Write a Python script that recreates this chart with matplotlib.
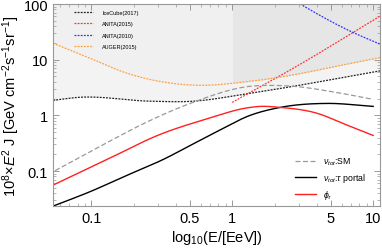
import numpy as np
import matplotlib
matplotlib.use('Agg')
import matplotlib.pyplot as plt
from matplotlib.ticker import FixedLocator, LogLocator, NullFormatter

plt.rcParams['font.family'] = ['Liberation Sans', 'DejaVu Sans']
plt.rcParams['mathtext.fontset'] = 'custom'
plt.rcParams['mathtext.rm'] = 'Liberation Sans'
plt.rcParams['mathtext.it'] = 'Liberation Sans:italic'

# Limits observats
E_ice = [0.0537, 0.08, 0.26, 0.5, 1.34, 11.2]
F_ice = [1.86, 2.1, 1.8, 1.78, 2.49, 6.3]

E_aug = [0.0537, 0.0984, 0.18, 0.565, 1.34, 11.2]
F_aug = [19.8, 10.6, 5.7, 3.47, 4.1, 10.9]

E_an15 = [1.0, 3.04, 11.2]
F_an15 = [1.71, 8.3, 60.8]

E_an10 = [2.5, 3.04, 6.87, 11.2]
F_an10 = [135.0, 100.0, 32.6, 19.0]

# Fluxos del model
E_sm = [0.0556, 0.126, 0.262, 0.504, 1.34, 2.0, 2.71, 5.4, 10.0]
F_sm = [0.102, 0.313, 0.81, 1.64, 3.33, 3.45, 3.33, 2.6, 1.94]

E_tau = [0.0537, 0.0984, 0.174, 0.335, 0.504, 0.783, 1.34, 2.19, 4.72, 10.0]
F_tau = [0.0235, 0.0427, 0.081, 0.168, 0.288, 0.515, 1.0, 1.39, 1.64, 1.45]

E_phi = [0.0537, 0.13, 0.308, 0.644, 1.34, 1.58, 2.19, 4.01, 6.33, 10.0]
F_phi = [0.056, 0.162, 0.455, 0.847, 1.39, 1.45, 1.39, 1.09, 0.69, 0.436]

fig = plt.figure(figsize=(3.82, 2.51), dpi=100)
ax = fig.add_axes([0.139, 0.175, 0.856, 0.805])
ax.set_xscale('log')
ax.set_yscale('log')
ax.set_xlim(0.0537, 11.2)
ax.set_ylim(0.0235, 100)


def suau(E, F, n=300):
    # Hermite cubic en escala log-log
    x = np.log10(E)
    y = np.log10(F)
    m = np.gradient(y, x)
    xs = np.linspace(x[0], x[-1], n)
    i = np.clip(np.searchsorted(x, xs) - 1, 0, len(x) - 2)
    h = x[i + 1] - x[i]
    t = (xs - x[i]) / h
    ys = ((2*t**3 - 3*t**2 + 1) * y[i] + (t**3 - 2*t**2 + t) * h * m[i]
          + (-2*t**3 + 3*t**2) * y[i + 1] + (t**3 - t**2) * h * m[i + 1])
    return 10**xs, 10**ys


# Zones excloses
Eg, ice_g = suau(E_ice, F_ice)
_, aug_g = suau(E_aug, F_aug)
ax.fill_between(Eg, ice_g, 1000, color='#f3f3f3', lw=0, zorder=0)
ax.fill_between(Eg, aug_g, 1000, color='#f0f0f0', lw=0, zorder=0)
m = Eg >= 1
ax.fill_between(Eg[m], aug_g[m], 1000, color='#e6e6e6', lw=0, zorder=0)

dot = (0, (1.5, 1))
ax.plot(Eg, ice_g, color='#222222', ls=dot, lw=0.9, label='IceCube(2017)')
ax.plot(*suau(E_an15, F_an15), color='#ff3333', ls=dot, lw=0.9, label='ANITA(2015)')
ax.plot(*suau(E_an10, F_an10), color='#3333ff', ls=dot, lw=0.9, label='ANITA(2010)')
ax.plot(Eg, aug_g, color='#ffa040', ls=dot, lw=0.9, label='AUGER(2015)')

l1 = ax.legend(loc='upper left', bbox_to_anchor=(0.05, 0.995), fontsize=4.0,
               frameon=False, handlelength=3.4, handletextpad=1.6, labelspacing=1.15)
ax.add_artist(l1)

h1, = ax.plot(*suau(E_sm, F_sm), color='#999999', ls=(0, (4, 2)), lw=0.9, label=r'$\nu_{tot}$:SM')
h2, = ax.plot(*suau(E_tau, F_tau), color='black', lw=1.0, label=r'$\nu_{tot}$:$\tau$ portal')
h3, = ax.plot(*suau(E_phi, F_phi), color='#ff2020', lw=1.0, label=r'$\phi_\tau$')
ax.legend(handles=[h1, h2, h3], loc='lower right', bbox_to_anchor=(0.98, -0.015),
          fontsize=6.3, frameon=False, handlelength=2.4, handletextpad=0.8, labelspacing=0.45)

ax.xaxis.set_major_locator(FixedLocator([0.1, 0.5, 1, 5, 10]))
ax.set_xticklabels(['0.1', '0.5', '1', '5', '10'])
ax.xaxis.set_minor_locator(LogLocator(base=10, subs=np.arange(2, 10)))
ax.xaxis.set_minor_formatter(NullFormatter())
ax.yaxis.set_major_locator(FixedLocator([0.1, 1, 10, 100]))
ax.set_yticklabels(['0.1', '1', '10', '100'])
ax.yaxis.set_minor_locator(LogLocator(base=10, subs=np.arange(2, 10)))
ax.yaxis.set_minor_formatter(NullFormatter())

for s in ax.spines.values():
    s.set_color('#999999')
    s.set_linewidth(0.8)
ax.tick_params(which='both', direction='in', top=True, right=True, colors='#999999',
               labelcolor='black', labelsize=10.5)
ax.tick_params(which='major', length=4, width=0.7)
ax.tick_params(which='minor', length=2, width=0.5)

ax.set_xlabel(r'log$_{10}$(E/[EeV])', fontsize=10.5, labelpad=2)
ax.set_ylabel(r'10$^8$$\times$$E^2$ J [GeV cm$^{-2}$s$^{-1}$sr$^{-1}$]', fontsize=10.5, labelpad=1)

fig.savefig('out.png', dpi=100)
